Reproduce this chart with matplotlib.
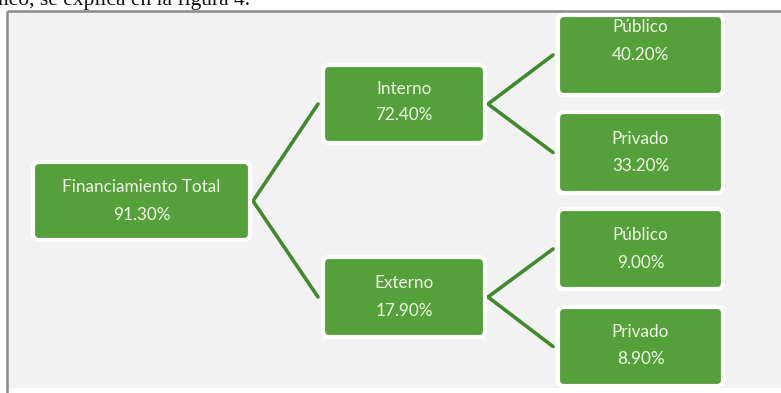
import matplotlib
matplotlib.use("Agg")
import matplotlib.pyplot as plt
from matplotlib.patches import FancyBboxPatch, Rectangle

# ---- data ----
labels = ["Financiamiento Total", "Interno", "Externo",
          "Público", "Privado", "Público", "Privado"]
values = [91.30, 72.40, 17.90, 40.20, 33.20, 9.00, 8.90]
parents = [None, 0, 0, 1, 1, 2, 2]

# ---- layout (pixel coordinates) ----
boxes = [
    (33, 162, 250, 240),
    (323, 65, 485, 143),
    (323, 257, 485, 337),
    (558, 15, 723, 95),
    (558, 112, 723, 193),
    (558, 209, 723, 289),
    (558, 307, 723, 386),
]
text_center_offset = [0, -2, 0, -14, 0, 0, -1]

W, H = 781, 393
fig = plt.figure(figsize=(W / 100, H / 100), dpi=100)
ax = fig.add_axes([0, 0, 1, 1])
ax.set_xlim(0, W)
ax.set_ylim(H, 0)
ax.axis("off")

# panel background and frame
ax.add_patch(Rectangle((7, 11), W, 377, facecolor="#f2f2f2", edgecolor="none", zorder=0))
ax.plot([7, 7], [11, 393], color="#8a8a8a", lw=1.8, zorder=1, solid_capstyle="butt")
ax.plot([7, W], [11, 11], color="#8a8a8a", lw=1.8, zorder=1, solid_capstyle="butt")

# top cropped text
ax.text(-2, 4.5, "nco, se explica en la figura 4.", family="Liberation Serif",
        fontsize=15.5, va="baseline", ha="left", color="#111111", zorder=2)

box_color = "#55a03a"
line_color = "#3f8a2c"
text_color = "#eef9e4"

# connectors
for i, p in enumerate(parents):
    if p is None:
        continue
    px0, py0, px1, py1 = boxes[p]
    cx0, cy0, cx1, cy1 = boxes[i]
    vx = px1 + 3
    vy = (py0 + py1) / 2
    ex = cx0 - 5
    ey = (cy0 + cy1) / 2
    ax.plot([vx, ex], [vy, ey], color=line_color, lw=2.6, zorder=2,
            solid_capstyle="round")

# boxes
for i, (x0, y0, x1, y1) in enumerate(boxes):
    ax.add_patch(FancyBboxPatch((x0, y0), x1 - x0, y1 - y0,
                                boxstyle="round,pad=0,rounding_size=6",
                                facecolor=box_color, edgecolor="white",
                                linewidth=3, zorder=3))
    cx = (x0 + x1) / 2
    cy = (y0 + y1) / 2 + text_center_offset[i]
    ax.text(cx, cy - 13.5, labels[i], ha="center", va="center",
            family="Lato", fontsize=12.3, color=text_color, zorder=4)
    ax.text(cx, cy + 13.5, f"{values[i]:.2f}%", ha="center", va="center",
            family="Lato", fontsize=12.3, color=text_color, zorder=4)

fig.savefig("out.png", dpi=100)
